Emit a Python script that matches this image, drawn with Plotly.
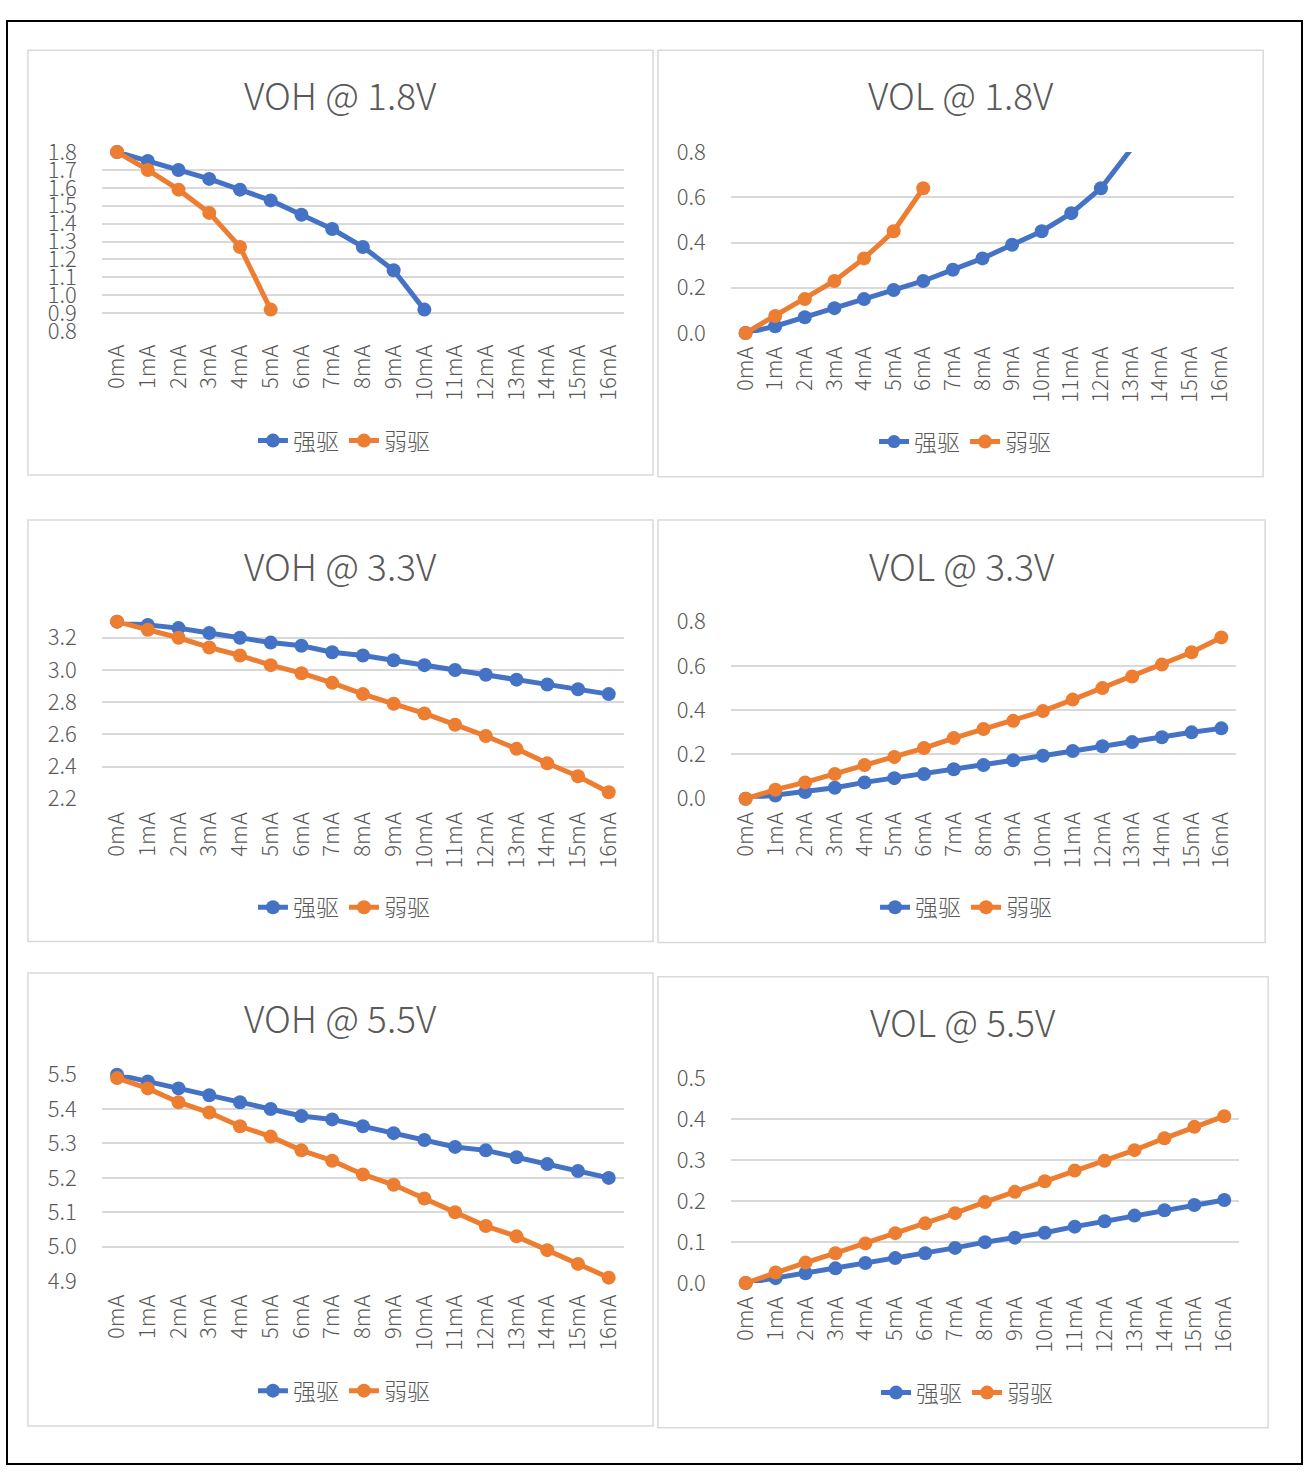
import plotly.graph_objects as go

# ---------------- data ----------------
currents = ["0mA", "1mA", "2mA", "3mA", "4mA", "5mA", "6mA", "7mA", "8mA",
            "9mA", "10mA", "11mA", "12mA", "13mA", "14mA", "15mA", "16mA"]
series_names = ["强驱", "弱驱"]
titles = ["VOH @ 1.8V", "VOL @ 1.8V", "VOH @ 3.3V", "VOL @ 3.3V", "VOH @ 5.5V", "VOL @ 5.5V"]

voh18_strong = [1.80, 1.75, 1.70, 1.65, 1.59, 1.53, 1.45, 1.37, 1.27, 1.14, 0.92]
voh18_weak = [1.80, 1.70, 1.59, 1.46, 1.27, 0.92]
vol18_strong = [0.00, 0.03, 0.07, 0.11, 0.15, 0.19, 0.23, 0.28, 0.33, 0.39, 0.45, 0.53, 0.64, 0.81]
vol18_weak = [0.00, 0.075, 0.15, 0.23, 0.33, 0.45, 0.64]

voh33_strong = [3.30, 3.28, 3.26, 3.23, 3.20, 3.17, 3.15, 3.11, 3.09, 3.06, 3.03, 3.00, 2.97, 2.94, 2.91, 2.88, 2.85]
voh33_weak = [3.30, 3.25, 3.20, 3.14, 3.09, 3.03, 2.98, 2.92, 2.85, 2.79, 2.73, 2.66, 2.59, 2.51, 2.42, 2.34, 2.24]
vol33_strong = [0.00, 0.015, 0.03, 0.05, 0.074, 0.093, 0.112, 0.133, 0.152, 0.174, 0.194, 0.216, 0.237, 0.256, 0.278, 0.30, 0.318]
vol33_weak = [0.00, 0.041, 0.074, 0.112, 0.152, 0.189, 0.229, 0.274, 0.315, 0.352, 0.396, 0.448, 0.50, 0.552, 0.606, 0.662, 0.729]

voh55_strong = [5.50, 5.48, 5.46, 5.44, 5.42, 5.40, 5.38, 5.37, 5.35, 5.33, 5.31, 5.29, 5.28, 5.26, 5.24, 5.22, 5.20]
voh55_weak = [5.49, 5.46, 5.42, 5.39, 5.35, 5.32, 5.28, 5.25, 5.21, 5.18, 5.14, 5.10, 5.06, 5.03, 4.99, 4.95, 4.91]
vol55_strong = [0.00, 0.012, 0.024, 0.036, 0.049, 0.061, 0.073, 0.086, 0.10, 0.111, 0.123, 0.138, 0.151, 0.165, 0.178, 0.191, 0.203]
vol55_weak = [0.00, 0.026, 0.05, 0.073, 0.097, 0.122, 0.146, 0.171, 0.198, 0.223, 0.249, 0.275, 0.299, 0.325, 0.354, 0.382, 0.408]

y_ranges = [(0.8, 1.8, 0.1), (0.0, 0.8, 0.2), (2.2, 3.3, 0.2), (0.0, 0.8, 0.2), (4.9, 5.5, 0.1), (0.0, 0.5, 0.1)]
panel_data = [
    (voh18_strong, voh18_weak),
    (vol18_strong, vol18_weak),
    (voh33_strong, voh33_weak),
    (vol33_strong, vol33_weak),
    (voh55_strong, voh55_weak),
    (vol55_strong, vol55_weak),
]

# ---------------- layout geometry (pixels) ----------------
W, H = 1305, 1481
plot_boxes = [  # x0, x1, y0(top), y1(bottom)
    (98, 622, 137, 320),
    (729, 1234, 137, 322),
    (98, 622, 617, 798),
    (729, 1236, 617, 798),
    (98, 622, 1080, 1291),
    (729, 1239, 1084, 1293),
]
panel_boxes = [
    (24, 651, 33, 467),
    (656, 1263, 33, 469),
    (24, 651, 513, 944),
    (656, 1265, 513, 945),
    (24, 651, 976, 1439),
    (656, 1268, 980, 1441),
]
title_pos = [(338, 78), (960, 78), (338, 559), (961, 559), (338, 1021), (962, 1025)]
legend_pos = [(341, 432), (964, 433), (341, 909), (965, 909), (341, 1403), (966, 1405)]

colors = ["#4472C4", "#ED7D31"]
FONT = "Noto Sans CJK SC, Noto Sans, sans-serif"
TXT = "#595959"
GRID = "#D9D9D9"


def px_x(x):
    return x / W


def px_y(y):
    return 1 - y / H


fig = go.Figure()
layout = dict(
    width=W, height=H, margin=dict(l=0, r=0, t=0, b=0),
    paper_bgcolor="white", plot_bgcolor="white",
    font=dict(family=FONT, color=TXT, weight=300),
    shapes=[], annotations=[],
)

for i in range(6):
    n = i + 1
    xa = "x" if n == 1 else f"x{n}"
    ya = "y" if n == 1 else f"y{n}"
    lg = "legend" if n == 1 else f"legend{n}"
    ymin, ymax, dt = y_ranges[i]
    for s in range(2):
        vals = panel_data[i][s]
        sizes = [14 if v <= ymax + 1e-9 else 0 for v in vals]
        fig.add_trace(go.Scatter(
            x=currents[:len(vals)], y=vals, name=series_names[s],
            mode="lines+markers", xaxis=xa, yaxis=ya, legend=lg,
            line=dict(color=colors[s], width=5),
            marker=dict(color=colors[s], size=sizes, opacity=1,
                        line=dict(width=0, color=colors[s])),
            cliponaxis=False, showlegend=True,
        ))
    x0, x1, y0, y1 = plot_boxes[i]
    layout["xaxis" if n == 1 else f"xaxis{n}"] = dict(
        domain=[px_x(x0), px_x(x1)], anchor=ya, type="category",
        categoryorder="array", categoryarray=currents,
        range=[-0.5, 16.5], showgrid=False, zeroline=False, showline=False,
        tickangle=-90, ticks="", ticklabelstandoff=8,
        tickfont=dict(size=22, color=TXT, family=FONT, weight=300), fixedrange=True,
    )
    layout["yaxis" if n == 1 else f"yaxis{n}"] = dict(
        domain=[px_y(y1), px_y(y0)], anchor=xa,
        range=[ymin, ymax], tick0=ymin, dtick=dt, tickformat=".1f",
        showgrid=True, gridcolor=GRID, gridwidth=1.5, zeroline=False,
        showline=False, ticks="", ticklabelstandoff=24,
        tickfont=dict(size=22, color=TXT, family=FONT, weight=300), fixedrange=True,
    )
    lx, ly = legend_pos[i]
    layout[lg] = dict(
        orientation="h", x=px_x(lx), y=px_y(ly), xanchor="center", yanchor="middle",
        font=dict(size=23, color=TXT, family=FONT, weight=300), bgcolor="rgba(0,0,0,0)",
        itemclick=False, itemdoubleclick=False, tracegroupgap=0,
    )
    bx0, bx1, by0, by1 = panel_boxes[i]
    layout["shapes"].append(dict(
        type="rect", xref="paper", yref="paper",
        x0=px_x(bx0), x1=px_x(bx1), y0=px_y(by1), y1=px_y(by0),
        line=dict(color=GRID, width=1.5), layer="below",
    ))
    tx, ty = title_pos[i]
    layout["annotations"].append(dict(
        text=titles[i], xref="paper", yref="paper", x=px_x(tx), y=px_y(ty),
        xanchor="center", yanchor="middle", showarrow=False,
        font=dict(size=37, color=TXT, family=FONT, weight=300),
    ))

# outer frame
layout["shapes"].append(dict(
    type="rect", xref="paper", yref="paper",
    x0=px_x(3), x1=px_x(1302), y0=px_y(1478), y1=px_y(3),
    line=dict(color="black", width=2),
))

fig.update_layout(**layout)
fig.write_html(
    "out.html",
    config={"displayModeBar": False},
    post_script=(
        "document.body.style.margin='0';document.body.style.padding='0';"
        "document.documentElement.style.overflow='hidden';"
        "var gd=document.getElementById('{plot_id}');"
        "gd.style.position='fixed';gd.style.top='0px';gd.style.left='0px';"
    ),
)
